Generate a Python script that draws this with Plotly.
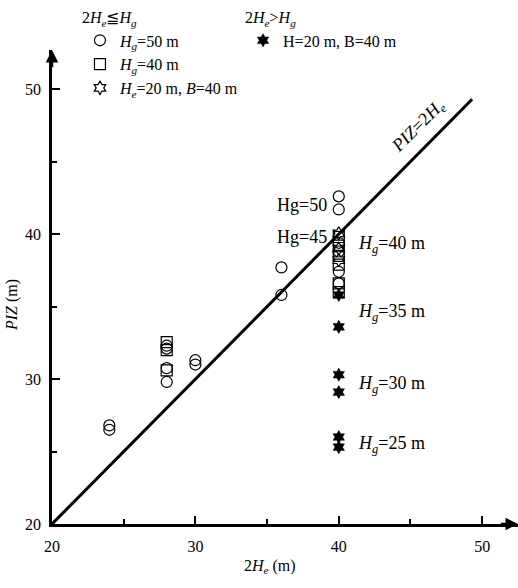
import plotly.graph_objects as go

# ---- data ----
circ_x = [24, 24, 28, 28, 28, 28, 30, 30, 36, 36, 40, 40, 40, 40, 40, 40]
circ_y = [26.8, 26.5, 32.3, 32.1, 30.75, 29.8, 31.3, 31.0, 37.7, 35.8, 42.6, 41.7, 39.4, 38.8, 37.4, 36.6]

sq_x = [28, 28, 28, 40, 40, 40, 40, 40, 40]
sq_y = [32.55, 32.0, 30.6, 39.8, 39.2, 38.5, 37.9, 36.6, 36.0]

ostar_x = [40, 40, 40]
ostar_y = [40.05, 39.0, 38.2]

fstar_x = [40, 40, 40, 40, 40, 40]
fstar_y = [35.8, 33.6, 30.3, 29.1, 26.0, 25.3]

ref_x = [20, 49.3]
ref_y = [20, 49.3]

FONT = "Liberation Serif, Times New Roman, serif"

fig = go.Figure()

fig.add_trace(go.Scatter(x=ref_x, y=ref_y, mode="lines",
                         line=dict(color="black", width=3), showlegend=False,
                         hoverinfo="skip"))

fig.add_trace(go.Scatter(x=circ_x, y=circ_y, mode="markers",
                         name="<i>H<sub>g</sub></i>=50 m", legend="legend",
                         marker=dict(symbol="circle-open", size=11, color="black",
                                     line=dict(width=1.2, color="black"))))
fig.add_trace(go.Scatter(x=sq_x, y=sq_y, mode="markers",
                         name="<i>H<sub>g</sub></i>=40 m", legend="legend",
                         marker=dict(symbol="square-open", size=11, color="black",
                                     line=dict(width=1.2, color="black"))))
fig.add_trace(go.Scatter(x=ostar_x, y=ostar_y, mode="markers",
                         name="<i>H<sub>e</sub></i>=20 m, <i>B</i>=40 m", legend="legend",
                         marker=dict(symbol="hexagram-open", size=10, color="black",
                                     line=dict(width=1.2, color="black"))))
fig.add_trace(go.Scatter(x=fstar_x, y=fstar_y, mode="markers",
                         name="H=20 m, B=40 m", legend="legend2",
                         marker=dict(symbol="hexagram", size=10, color="black",
                                     line=dict(width=0.5, color="black"))))

annots = []
# axis arrows
annots.append(dict(x=52.5, y=20, ax=51.2, ay=20, xref="x", yref="y", axref="x", ayref="y",
                   showarrow=True, arrowhead=2, arrowsize=1, arrowwidth=2.5,
                   arrowcolor="black", text=""))
annots.append(dict(x=20, y=52.7, ax=20, ay=51.4, xref="x", yref="y", axref="x", ayref="y",
                   showarrow=True, arrowhead=2, arrowsize=1, arrowwidth=2.5,
                   arrowcolor="black", text=""))

tf = dict(family=FONT, size=16, color="black")
bf = dict(family=FONT, size=18, color="black")
annots.append(dict(x=39.35, y=42.0, xref="x", yref="y", text="Hg=50", showarrow=False,
                   xanchor="right", font=bf))
annots.append(dict(x=39.35, y=39.8, xref="x", yref="y", text="Hg=45", showarrow=False,
                   xanchor="right", font=bf))
for yy, lab in [(39.25, "40"), (34.6, "35"), (29.6, "30"), (25.5, "25")]:
    annots.append(dict(x=41.2, y=yy, xref="x", yref="y",
                       text="<i>H<sub>g</sub></i>=%s m" % lab, showarrow=False,
                       xanchor="left", font=bf))
annots.append(dict(x=45.6, y=47.4, xref="x", yref="y",
                   text="<i>PIZ</i>=2<i>H<sub>e</sub></i>", showarrow=False,
                   textangle=-45, font=bf))
# axis titles
annots.append(dict(x=35.2, y=-0.09, xref="x", yref="paper", xanchor="center",
                   yanchor="middle", text="2<i>H<sub>e</sub></i> (m)", showarrow=False,
                   font=tf))
annots.append(dict(x=-0.086, y=35.1, xref="paper", yref="y", xanchor="center",
                   yanchor="middle", text="<i>PIZ</i> (m)", showarrow=False,
                   textangle=-90, font=tf))

fig.update_layout(
    width=518, height=588,
    margin=dict(l=52, r=0, t=50, b=64),
    paper_bgcolor="white", plot_bgcolor="white",
    font=dict(family=FONT, size=16, color="black"),
    annotations=annots,
    showlegend=True,
    legend=dict(x=0.06, y=1.1, xanchor="left", yanchor="top",
                title=dict(text="2<i>H<sub>e</sub></i>≦<i>H<sub>g</sub></i>", font=tf),
                font=tf, bgcolor="rgba(0,0,0,0)", tracegroupgap=0),
    legend2=dict(x=0.41, y=1.1, xanchor="left", yanchor="top",
                 title=dict(text="2<i>H<sub>e</sub></i>&gt;<i>H<sub>g</sub></i>", font=tf),
                 font=tf, bgcolor="rgba(0,0,0,0)"),
    xaxis=dict(range=[20, 52.5], showgrid=False, zeroline=False,
               showline=True, linecolor="black", linewidth=2.5,
               ticks="inside", ticklen=8, tickwidth=2, tickcolor="black",
               tick0=20, dtick=10, ticklabelstandoff=6,
               minor=dict(ticks="inside", ticklen=5, tickwidth=2, dtick=5, tick0=20,
                          tickcolor="black", showgrid=False),
               tickfont=tf),
    yaxis=dict(range=[20, 52.7], showgrid=False, zeroline=False,
               showline=True, linecolor="black", linewidth=2.5,
               ticks="inside", ticklen=8, tickwidth=2, tickcolor="black",
               tickvals=[20, 30, 40, 50], ticklabelstandoff=5,
               minor=dict(ticks="inside", ticklen=5, tickwidth=2,
                          tickvals=[25, 35, 45], tickcolor="black", showgrid=False),
               tickfont=tf),
)

fig.write_html("out.html")
